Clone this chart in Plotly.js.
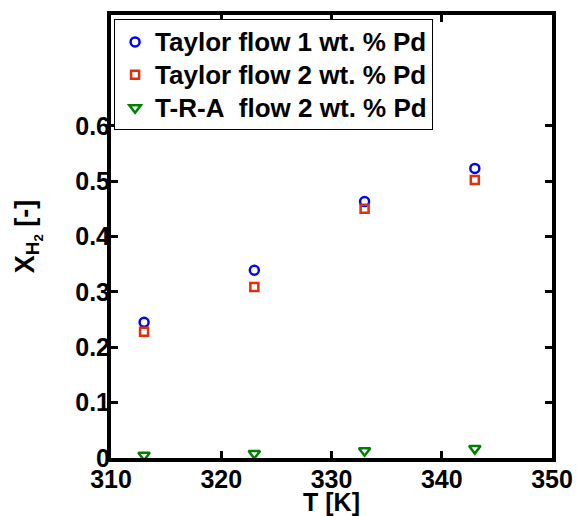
<!DOCTYPE html>
<html>
<head>
<meta charset="utf-8">
<script src="https://cdn.plot.ly/plotly-3.0.1.min.js"></script>
<style>html,body{margin:0;padding:0;background:#fff;}#chart{width:577px;height:516px;}</style>
</head>
<body>
<div id="chart"></div>
<script>
const temperatures = [313, 323, 333, 343];
const taylor1 = [0.245, 0.339, 0.463, 0.523];
const taylor2 = [0.228, 0.309, 0.450, 0.502];
const tra2 = [0.005, 0.008, 0.013, 0.017];
const seriesNames = ["Taylor flow 1 wt. % Pd", "Taylor flow 2 wt. % Pd", "T-R-A\u00a0 flow 2 wt. % Pd"];
const yTicks = [0, 0.1, 0.2, 0.3, 0.4, 0.5, 0.6];
const yTickText = ["0", "0.1", "0.2", "0.3", "0.4", "0.5", "0.6"];
const xTicks = [310, 320, 330, 340, 350];
const xTickText = ["310", "320", "330", "340", "350"];

const fontFam = "Liberation Sans, Arial, Helvetica, sans-serif";
const b = s => "<b>" + s + "</b>";
const legName = s => '<span style="font-size:26px"><b>' + s + '</b></span>';

const traces = [
  {x: temperatures, y: taylor1, name: legName(seriesNames[0]), mode: "markers", type: "scatter",
   marker: {symbol: "circle-open", size: 9, color: "#0000ff", line: {width: 2.5, color: "#0000ff"}}},
  {x: temperatures, y: taylor2, name: legName(seriesNames[1]), mode: "markers", type: "scatter",
   marker: {symbol: "square-open", size: 8, color: "#e0300a", line: {width: 2.5, color: "#e0300a"}}},
  {x: temperatures, y: tra2, name: legName(seriesNames[2]), mode: "markers", type: "scatter",
   marker: {symbol: "triangle-down-open", size: 10, color: "#008000", line: {width: 2.5, color: "#008000"}}}
];

const axisCommon = {
  showline: true, linecolor: "#000", linewidth: 4, mirror: "ticks",
  ticks: "inside", ticklen: 7, tickwidth: 3, tickcolor: "#000",
  showgrid: false, zeroline: false, automargin: false,
  tickfont: {family: fontFam, size: 25, color: "#000", weight: 700}
};

const layout = {
  width: 577, height: 516,
  margin: {l: 111, r: 25, t: 15, b: 58},
  paper_bgcolor: "#fff", plot_bgcolor: "#fff",
  showlegend: true,
  font: {family: fontFam, color: "#000"},
  xaxis: Object.assign({}, axisCommon, {
    range: [310, 350], tickvals: xTicks, ticktext: xTickText.map(b),
    ticklabelstandoff: -4,
    title: {text: b("T [K]"), font: {family: fontFam, size: 25, color: "#000", weight: 700}, standoff: 6}
  }),
  yaxis: Object.assign({}, axisCommon, {
    range: [0, 0.8], tickvals: yTicks, ticktext: yTickText.map(b),
    ticklabelstandoff: -8,
    title: {text: b("X<sub>H<sub>2</sub></sub> [-]"), font: {family: fontFam, size: 27, color: "#000", weight: 700}, standoff: 34}
  }),
  legend: {
    x: 0.007, y: 0.99, xanchor: "left", yanchor: "top",
    bgcolor: "#fff", bordercolor: "#000", borderwidth: 1,
    font: {family: fontFam, size: 23, color: "#000", weight: 700},
    tracegroupgap: 0
  }
};

Plotly.newPlot("chart", traces, layout, {displayModeBar: false, staticPlot: true});
</script>
</body>
</html>
